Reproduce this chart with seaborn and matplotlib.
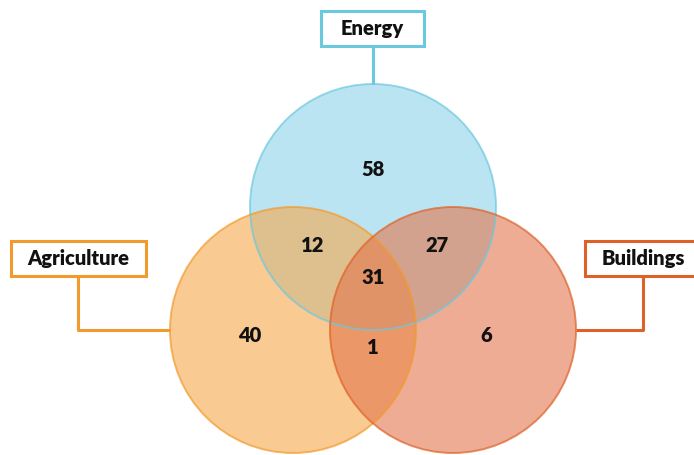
import seaborn as sns
import matplotlib.pyplot as plt
from matplotlib.patches import Circle, Rectangle

# -------------------------------
# Data
# -------------------------------
sets = ["Energy", "Agriculture", "Buildings"]
region_labels = ["Energy only", "Agriculture only", "Buildings only",
                 "Energy & Agriculture", "Energy & Buildings",
                 "Agriculture & Buildings", "All three"]
region_counts = [58, 40, 6, 12, 27, 1, 31]

# -------------------------------
# Style
# -------------------------------
sns.set_style("white")
plt.rcParams["font.family"] = ["Lato", "DejaVu Sans"]

fill_colors = {"Energy": "#8fd3ea", "Agriculture": "#f5a84a", "Buildings": "#e2764c"}
edge_colors = {"Energy": "#6cc8df", "Agriculture": "#f39a2c", "Buildings": "#de6127"}

# circle centres / radius in pixel units of the canvas
centres = {"Energy": (373, 207), "Agriculture": (293, 330), "Buildings": (453, 330)}
radius = 123

fig = plt.figure(figsize=(6.94, 4.55), dpi=100)
ax = fig.add_axes([0, 0, 1, 1])
ax.set_xlim(0, 694)
ax.set_ylim(455, 0)
ax.set_aspect("equal")
ax.axis("off")

for name in sets:
    ax.add_patch(Circle(centres[name], radius, facecolor=fill_colors[name],
                        alpha=0.6, edgecolor="none", zorder=1))
for name in sets:
    ax.add_patch(Circle(centres[name], radius, facecolor="none",
                        edgecolor=edge_colors[name], lw=1.4, alpha=0.7, zorder=2))

# region numbers
region_pos = {
    "Energy only": (373, 170),
    "Agriculture only": (250, 336),
    "Buildings only": (486, 336),
    "Energy & Agriculture": (313, 245),
    "Energy & Buildings": (437, 245),
    "Agriculture & Buildings": (373, 348),
    "All three": (373, 278),
}
for lab, val in zip(region_labels, region_counts):
    x, y = region_pos[lab]
    ax.text(x, y, str(val), ha="center", va="center", fontsize=14.5,
            fontweight="heavy", color="#111111", zorder=5)

# label boxes with connectors
boxes = {
    "Energy": (321, 11, 103, 35),
    "Agriculture": (11, 241, 135, 35),
    "Buildings": (585, 241, 112, 35),
}
connectors = {
    "Energy": ([373, 373], [46, 84]),
    "Agriculture": ([78, 78, 170], [276, 330, 330]),
    "Buildings": ([643, 643, 576], [276, 330, 330]),
}
for name in sets:
    bx, by, bw, bh = boxes[name]
    ax.add_patch(Rectangle((bx, by), bw, bh, facecolor="white",
                           edgecolor=edge_colors[name], lw=2.2, zorder=6,
                           clip_on=False))
    tx = bx + bw / 2 if name != "Buildings" else 643
    ax.text(tx, by + bh / 2, name, ha="center", va="center", fontsize=14.5,
            fontweight="heavy", color="#111111", zorder=7)
    xs, ys = connectors[name]
    ax.plot(xs, ys, color=edge_colors[name], lw=2.2, zorder=3,
            solid_capstyle="butt")

plt.savefig("out.png", dpi=100)
plt.close()
